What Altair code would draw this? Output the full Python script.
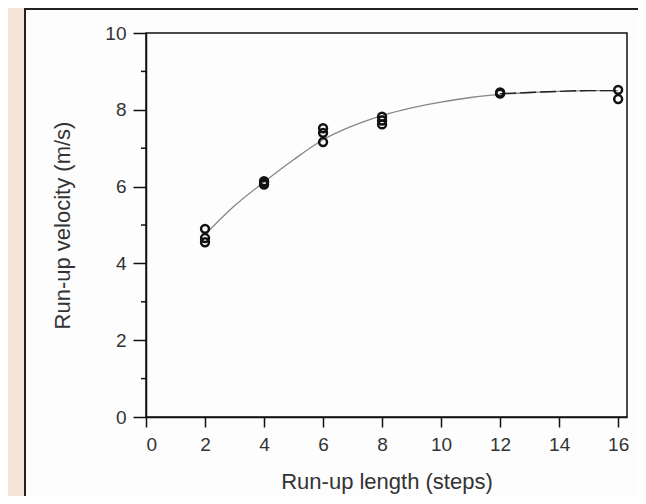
import altair as alt
import pandas as pd

# Observed run-up velocities (m/s) per run-up length (steps)
pt_steps = [2, 2, 2, 4, 4, 4, 6, 6, 6, 8, 8, 8, 12, 12, 16, 16]
pt_velocity = [4.90, 4.66, 4.55, 6.05, 6.10, 6.14, 7.52, 7.40, 7.16, 7.82, 7.72, 7.62, 8.42, 8.45, 8.52, 8.28]

# Fitted curve
curve_steps = [2, 3, 4, 5, 6, 7, 8, 9, 10, 11, 12, 13, 14, 15, 16]
curve_velocity = [4.75, 5.50, 6.12, 6.70, 7.22, 7.58, 7.85, 8.05, 8.20, 8.32, 8.40, 8.45, 8.48, 8.50, 8.50]

# Darker fit segment at the plateau
plateau_steps = [12, 13, 14, 15, 16]
plateau_velocity = [8.42, 8.45, 8.48, 8.50, 8.50]

x_ticks = [0, 2, 4, 6, 8, 10, 12, 14, 16]
y_ticks = [0, 2, 4, 6, 8, 10]
y_minor = [1, 3, 5, 7, 9]

W, H = 481, 384
FONT = "Liberation Sans"
TXT = "#333333"

points = pd.DataFrame({"steps": pt_steps, "velocity": pt_velocity})
curve = pd.DataFrame({"steps": curve_steps, "velocity": curve_velocity})
plateau = pd.DataFrame({"steps": plateau_steps, "velocity": plateau_velocity})
minor = pd.DataFrame({"velocity": y_minor})

xscale = alt.Scale(domain=[0, 16.3], nice=False)
yscale = alt.Scale(domain=[0, 10], nice=False)

common = dict(grid=False, zindex=2, labelFont=FONT, titleFont=FONT,
              labelFontSize=19, titleFontSize=22, titleFontWeight="normal",
              labelColor=TXT, titleColor=TXT, domainColor="#111111", domainWidth=1.5,
              tickColor="#111111", tickWidth=1.5)

xaxis = alt.Axis(values=x_ticks, title="Run-up length (steps)",
                 tickSize=10, labelPadding=8,
                 titleY=71, titleBaseline="alphabetic", **common)
yaxis = alt.Axis(values=y_ticks, title="Run-up velocity (m/s)",
                 tickSize=13, labelPadding=7,
                 titleX=-77, titleBaseline="alphabetic", **common)

# White panel behind the chart (decoration)
panel = alt.Chart(alt.Data(values=[{}])).mark_rect(
    fill="#fdfdfd", stroke="#222222", strokeWidth=2
).encode(x=alt.value(-121), x2=alt.value(520), y=alt.value(-24), y2=alt.value(467))

frame = alt.Chart(alt.Data(values=[{}])).mark_rect(
    filled=False, stroke="#111111", strokeWidth=1.5
).encode(x=alt.value(0), x2=alt.value(W), y=alt.value(0), y2=alt.value(H))

minor_ticks = alt.Chart(minor).mark_rule(color="#111111", strokeWidth=1.5).encode(
    y=alt.Y("velocity:Q", scale=yscale, axis=yaxis),
    x=alt.value(-5), x2=alt.value(0)
)

fit = alt.Chart(curve).mark_line(color="#8a8482", strokeWidth=1.3, interpolate="monotone").encode(
    x=alt.X("steps:Q", scale=xscale, axis=xaxis),
    y=alt.Y("velocity:Q", scale=yscale, axis=yaxis),
)

fit2 = alt.Chart(plateau).mark_line(color="#222222", strokeWidth=1.4, interpolate="monotone",
                                    strokeDash=[16, 4]).encode(
    x=alt.X("steps:Q", scale=xscale, axis=xaxis),
    y=alt.Y("velocity:Q", scale=yscale, axis=yaxis),
)

pts = alt.Chart(points).mark_point(shape="circle", filled=False, color="#111111",
                                   size=62, strokeWidth=2.5, opacity=1).encode(
    x=alt.X("steps:Q", scale=xscale, axis=xaxis),
    y=alt.Y("velocity:Q", scale=yscale, axis=yaxis),
)

chart = alt.layer(panel, frame, minor_ticks, fit, fit2, pts).properties(
    width=W, height=H,
    autosize=alt.AutoSizeParams(type="none"),
    padding={"left": 138, "top": 25, "right": 11, "bottom": 79},
    background="#f5e5d9",
).configure_view(stroke=None)

chart.save("out.html", embed_options={"renderer": "svg", "actions": False})
